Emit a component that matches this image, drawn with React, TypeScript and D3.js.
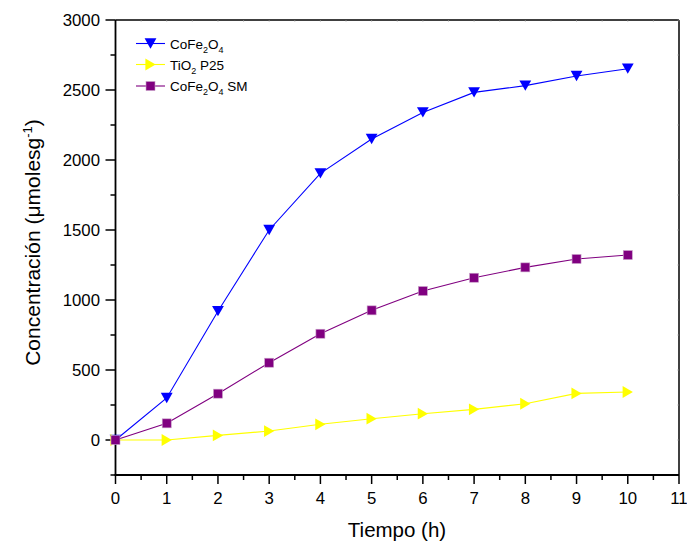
import React from "react";
import * as d3 from "d3";

const hours = [0, 1, 2, 3, 4, 5, 6, 7, 8, 9, 10];
const cofe2o4 = [0, 300, 920, 1500, 1905, 2150, 2340, 2483, 2531, 2600, 2652];
const tio2 = [0, 0, 33, 64, 112, 152, 188, 219, 259, 333, 343];
const cofe2o4SM = [0, 119, 331, 552, 759, 926, 1064, 1159, 1233, 1293, 1321];

const xTicks = [0, 1, 2, 3, 4, 5, 6, 7, 8, 9, 10, 11];
const yTicks = [0, 500, 1000, 1500, 2000, 2500, 3000];
const xMinor = d3.range(0.5, 11, 1);
const yMinor = [-250, 250, 750, 1250, 1750, 2250, 2750];

const W = 687;
const H = 542;
const FONT = "'Liberation Sans', Arial, sans-serif";

export default function App() {
  const x = d3.scaleLinear().domain([0, 11]).range([115.5, 679]);
  const y = d3.scaleLinear().domain([-250, 3000]).range([475, 20]);
  const line = d3
    .line<[number, number]>()
    .x((d) => x(d[0]))
    .y((d) => y(d[1]));

  const series = [
    { name: "blue", values: cofe2o4, color: "#0000ff", marker: "down" },
    { name: "yellow", values: tio2, color: "#ffff00", marker: "right" },
    { name: "purple", values: cofe2o4SM, color: "#800080", marker: "square" },
  ];

  const marker = (type: string, cx: number, cy: number, color: string, key: any) => {
    if (type === "down") {
      const s = 5.9;
      return (
        <path
          key={key}
          d={`M${cx - s},${cy - s * 0.87} L${cx + s},${cy - s * 0.87} L${cx},${cy + s * 0.87} Z`}
          fill={color}
        />
      );
    }
    if (type === "right") {
      const s = 5.9;
      return (
        <path
          key={key}
          d={`M${cx - s * 0.87},${cy - s} L${cx + s * 0.87},${cy} L${cx - s * 0.87},${cy + s} Z`}
          fill={color}
        />
      );
    }
    return (
      <rect
        key={key}
        x={cx - 4.5}
        y={cy - 4.5}
        width={9}
        height={9}
        fill={color}
        stroke="#c9a0c9"
        strokeWidth={0.6}
      />
    );
  };

  const legend = [
    { marker: "down", color: "#0000ff", y: 43.5, label: "CoFe2O4" },
    { marker: "right", color: "#ffff00", y: 64.5, label: "TiO2 P25" },
    { marker: "square", color: "#800080", y: 86, label: "CoFe2O4 SM" },
  ];

  const renderLabel = (label: string) => {
    if (label === "CoFe2O4")
      return (
        <>
          <tspan>CoFe</tspan>
          <tspan fontSize={9} dy={4}>2</tspan>
          <tspan dy={-4}>O</tspan>
          <tspan fontSize={9} dy={4}>4</tspan>
        </>
      );
    if (label === "TiO2 P25")
      return (
        <>
          <tspan>TiO</tspan>
          <tspan fontSize={9} dy={4}>2</tspan>
          <tspan dy={-4}> P25</tspan>
        </>
      );
    return (
      <>
        <tspan>CoFe</tspan>
        <tspan fontSize={9} dy={4}>2</tspan>
        <tspan dy={-4}>O</tspan>
        <tspan fontSize={9} dy={4}>4</tspan>
        <tspan dy={-4}> SM</tspan>
      </>
    );
  };

  return (
    <svg
      width={W}
      height={H}
      style={{ position: "absolute", left: 0, top: 0, background: "#fff" }}
      fontFamily={FONT}
    >
      <rect x={0} y={0} width={W} height={H} fill="#fff" />

      {/* frame top/right */}
      <line x1={x(0)} x2={x(11)} y1={y(3000)} y2={y(3000)} stroke="#000" strokeWidth={1.5} />
      <line x1={x(11)} x2={x(11)} y1={y(3000)} y2={y(-250)} stroke="#000" strokeWidth={1.5} />
      {xTicks.concat(xMinor).map((t, i) => (
        <line key={"tt" + i} x1={x(t)} x2={x(t)} y1={y(3000)} y2={y(3000) + 1.5} stroke="#888" strokeWidth={0.8} />
      ))}
      {yTicks.concat(yMinor).map((t, i) => (
        <line key={"rt" + i} x1={x(11)} x2={x(11) - 1.5} y1={y(t)} y2={y(t)} stroke="#888" strokeWidth={0.8} />
      ))}

      {/* left axis */}
      <line x1={x(0)} x2={x(0)} y1={y(3000)} y2={y(-250)} stroke="#000" strokeWidth={1.8} />
      {yTicks.map((t) => (
        <g key={"y" + t}>
          <line x1={x(0) - 10} x2={x(0)} y1={y(t)} y2={y(t)} stroke="#000" strokeWidth={1.5} />
          <text x={100} y={y(t) + 5.8} textAnchor="end" fontSize={16.8} fill="#000">
            {t}
          </text>
        </g>
      ))}
      {yMinor.map((t) => (
        <line key={"ym" + t} x1={x(0) - 5} x2={x(0)} y1={y(t)} y2={y(t)} stroke="#000" strokeWidth={1.5} />
      ))}

      {/* bottom axis */}
      <line x1={x(0) - 1} x2={x(11)} y1={y(-250)} y2={y(-250)} stroke="#000" strokeWidth={1.8} />
      {xTicks.map((t) => (
        <g key={"x" + t}>
          <line x1={x(t)} x2={x(t)} y1={y(-250)} y2={y(-250) + 9} stroke="#000" strokeWidth={1.5} />
          <text x={x(t)} y={504} textAnchor="middle" fontSize={16.8} fill="#000">
            {t}
          </text>
        </g>
      ))}
      {xMinor.map((t) => (
        <line key={"xm" + t} x1={x(t)} x2={x(t)} y1={y(-250)} y2={y(-250) + 5} stroke="#000" strokeWidth={1.5} />
      ))}

      {/* axis titles */}
      <text x={397} y={537} textAnchor="middle" fontSize={20.5} fill="#000">
        Tiempo (h)
      </text>
      <text
        transform={`translate(40,242.5) rotate(-90)`}
        textAnchor="middle"
        fontSize={21}
        fill="#000"
      >
        <tspan>Concentración (μmolesg</tspan>
        <tspan fontSize={13} dy={-8}>-1</tspan>
        <tspan dy={8}>)</tspan>
      </text>

      {/* series lines */}
      {series.map((s) => (
        <path
          key={"l" + s.name}
          d={line(hours.map((h, i) => [h, s.values[i]] as [number, number])) || ""}
          fill="none"
          stroke={s.color}
          strokeWidth={1.1}
        />
      ))}
      {series.map((s) => (
        <g key={"m" + s.name}>
          {hours.map((h, i) => marker(s.marker, x(h), y(s.values[i]), s.color, i))}
        </g>
      ))}

      {/* legend */}
      {legend.map((l, i) => (
        <g key={"lg" + i}>
          <line x1={136} x2={165} y1={l.y} y2={l.y} stroke={l.color} strokeWidth={1.1} />
          {marker(l.marker, 150.5, l.y, l.color, "lm" + i)}
          <text x={170} y={l.y + 5} fontSize={13.5} fill="#000">
            {renderLabel(l.label)}
          </text>
        </g>
      ))}
    </svg>
  );
}
